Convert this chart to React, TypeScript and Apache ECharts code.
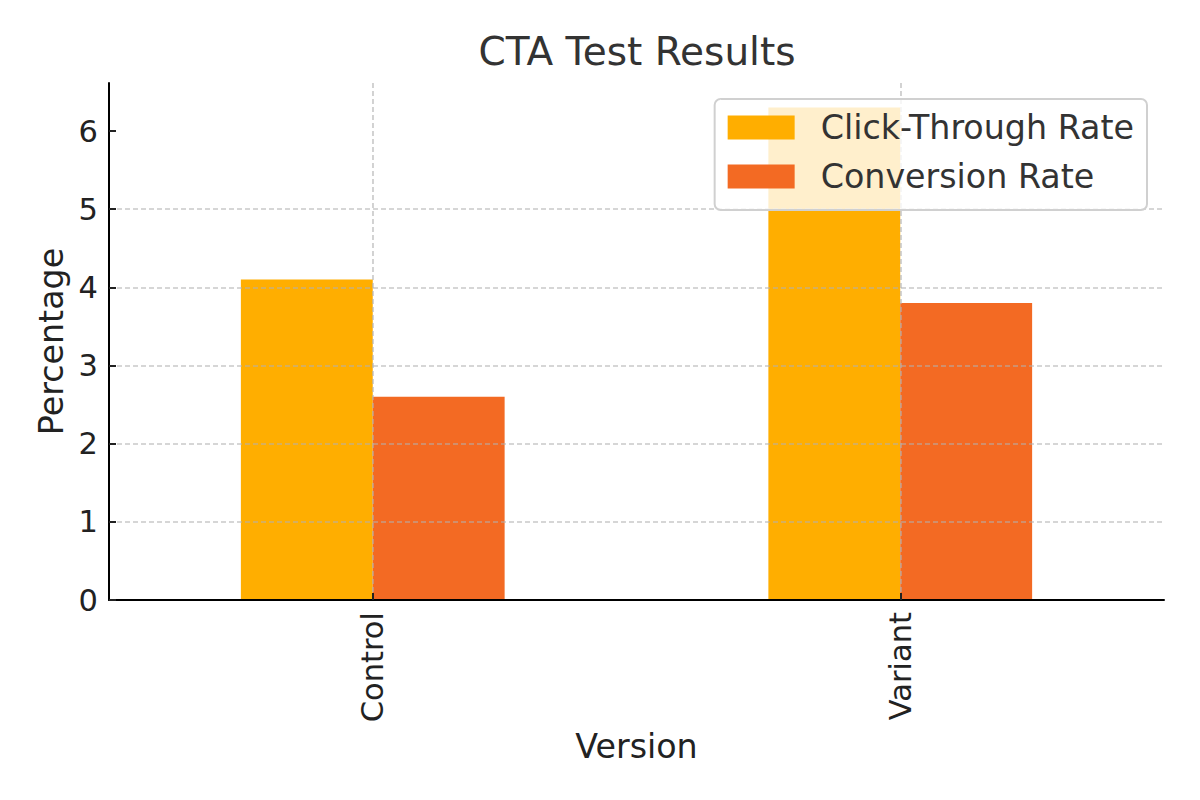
import React, { useEffect, useRef } from "react";
import * as echarts from "echarts";

const categories = ["Control", "Variant"];
const clickThroughRate = [4.1, 6.3];
const conversionRate = [2.6, 3.8];
const seriesNames = ["Click-Through Rate", "Conversion Rate"];
const yTicks = [0, 1, 2, 3, 4, 5, 6];

const FONT = "DejaVu Sans";
const GRID_COLOR = "rgba(176,176,176,0.7)";

export default function App() {
  const ref = useRef<HTMLDivElement>(null);
  useEffect(() => {
    if (!ref.current) return;
    const chart = echarts.init(ref.current, null, { renderer: "svg" });
    chart.setOption({
      animation: false,
      backgroundColor: "#ffffff",
      textStyle: { fontFamily: FONT },
      title: {
        text: "CTA Test Results",
        left: 632,
        textAlign: "center",
        top: 27,
        textStyle: { fontFamily: FONT, fontSize: 39, fontWeight: "normal", color: "#333333" },
      },
      grid: { left: 109, right: 36, top: 83, bottom: 200, containLabel: false },
      legend: {
        orient: "vertical",
        right: 53,
        top: 99,
        data: seriesNames,
        itemWidth: 67,
        itemHeight: 24,
        itemGap: 16,
        padding: [12, 13, 17, 13],
        backgroundColor: "rgba(255,255,255,0.8)",
        borderColor: "#d0d0d0",
        borderWidth: 2,
        borderRadius: 6,
        icon: "rect",
        textStyle: { fontFamily: FONT, fontSize: 33.3, color: "#333333", padding: [0, 0, 0, 21] },
        z: 10,
      },
      xAxis: {
        type: "category",
        data: categories,
        z: 3,
        name: "Version",
        nameLocation: "middle",
        nameGap: 126,
        nameTextStyle: { fontFamily: FONT, fontSize: 33.3, color: "#222222" },
        axisLine: { show: true, lineStyle: { color: "#000000", width: 2 } },
        axisTick: { show: true, inside: true, alignWithLabel: true, length: 7, lineStyle: { color: "#222222", width: 2 } },
        axisLabel: { rotate: 90, margin: 12, fontFamily: FONT, fontSize: 30.5, color: "#222222" },
        splitLine: { show: true, alignWithLabel: true, lineStyle: { color: GRID_COLOR, type: [5, 3], width: 1.6 } },
      },
      yAxis: {
        type: "value",
        min: 0,
        max: 6.615,
        interval: 1,
        z: 3,
        name: "Percentage",
        nameLocation: "middle",
        nameGap: 40,
        nameRotate: 90,
        nameTextStyle: { fontFamily: FONT, fontSize: 33.3, color: "#222222" },
        axisLine: { show: true, lineStyle: { color: "#000000", width: 2 } },
        axisTick: { show: true, inside: true, length: 7, lineStyle: { color: "#222222", width: 2 }, customValues: yTicks },
        axisLabel: { margin: 11, fontFamily: FONT, fontSize: 30.5, color: "#222222", customValues: yTicks },
        splitLine: { show: true, showMaxLine: false, lineStyle: { color: GRID_COLOR, type: [5, 3], width: 1.6 } },
      },
      series: [
        {
          name: seriesNames[0],
          type: "bar",
          data: clickThroughRate,
          barWidth: "25%",
          barGap: "0%",
          itemStyle: { color: "#FFAE00" },
        },
        {
          name: seriesNames[1],
          type: "bar",
          data: conversionRate,
          barWidth: "25%",
          barGap: "0%",
          itemStyle: { color: "#F36A23" },
        },
      ],
    });
    return () => chart.dispose();
  }, []);
  return (
    <div
      ref={ref}
      style={{ position: "absolute", left: 0, top: 0, width: 1200, height: 800 }}
    />
  );
}
